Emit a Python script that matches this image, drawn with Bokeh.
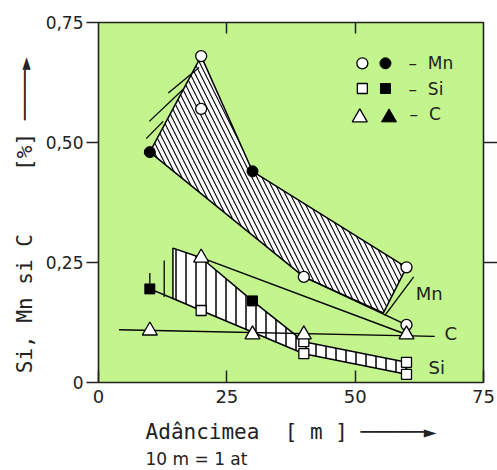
from bokeh.plotting import figure
from bokeh.models import Range1d, FixedTicker, LinearAxis, Title
from bokeh.core.properties import value
from bokeh.embed import file_html
from bokeh.resources import INLINE

# ---------------- data ----------------
x_ticks = [0, 25, 50, 75]
y_ticks = [0.0, 0.25, 0.5, 0.75]
y_tick_labels = ["0", "0,25", "0,50", "0,75"]

# Mn
mn_open_x = [20, 20, 40, 60, 60]
mn_open_y = [0.68, 0.57, 0.22, 0.24, 0.12]
mn_fill_x = [10, 30]
mn_fill_y = [0.48, 0.44]
# Si
si_open_x = [20, 40, 40, 60, 60]
si_open_y = [0.15, 0.085, 0.06, 0.042, 0.017]
si_fill_x = [10, 30]
si_fill_y = [0.195, 0.17]
# C
c_open_x = [10, 20, 30, 40, 60]
c_open_y = [0.108, 0.26, 0.10, 0.10, 0.10]

# hatched scatter bands and trend lines
mn_band_x = [10, 20, 30, 60, 55.5, 40]
mn_band_y = [0.48, 0.68, 0.44, 0.24, 0.145, 0.22]
mn_low_x = [40, 60]
mn_low_y = [0.22, 0.12]
si_band_x = [14.5, 20, 30, 40, 60, 60, 40, 20, 14.5]
si_band_y = [0.28, 0.26, 0.17, 0.085, 0.042, 0.017, 0.06, 0.15, 0.175]
si_low_x = [10, 14.5]
si_low_y = [0.195, 0.175]
c_trend_x = [20, 60]
c_trend_y = [0.26, 0.10]
c_level_x = [4, 65.5]
c_level_y = [0.11, 0.096]

# short strokes drawn outside the bands
stroke_x0 = [13.6, 9.9, 9.3, 61.4, 12.8, 10]
stroke_y0 = [0.603, 0.544, 0.508, 0.22, 0.178, 0.207]
stroke_x1 = [19.6, 16.5, 12.6, 55.8, 12.8, 10]
stroke_y1 = [0.656, 0.611, 0.544, 0.14, 0.254, 0.228]

# series names written next to the curves
curve_names = ["Mn", "C", "Si"]
curve_name_x = [61.8, 67.4, 64.3]
curve_name_y = [0.185, 0.102, 0.031]

# texts
NB = "\u00a0"
y_title = ("Si, Mn si C" + NB * 5 + "[%]" + NB
           + "\u2500" * 4 + "\u25ba" + NB * 2)
x_title = ("Adâncimea" + NB * 2 + "[" + NB + "m" + NB + "]" + NB
           + "\u2500" * 5 + "\u25ba")
x_note = "10 m = 1 at"
legend_texts = ["\u2013" + NB * 2 + "Mn", "\u2013" + NB * 2 + "Si", "\u2013" + NB * 2 + "C"]

# ---------------- figure ----------------
FONT = "DejaVu Sans"
MONO = "DejaVu Sans Mono"
GREEN = "#c3f48d"
INK = "#222222"

p = figure(width=497, height=470, x_range=Range1d(0, 75), y_range=Range1d(0, 0.75),
           output_backend="svg", toolbar_location=None,
           x_axis_location=None, y_axis_location=None,
           min_border_left=98, min_border_right=14, min_border_top=22, min_border_bottom=88)
p.xgrid.visible = False
p.ygrid.visible = False
p.background_fill_color = GREEN
p.border_fill_color = "white"
p.outline_line_color = INK
p.outline_line_width = 1.6


def make_axis(ticks, tick_in=0, tick_out=0, overrides=None, font_size="17px", standoff=0):
    ax = LinearAxis(ticker=FixedTicker(ticks=ticks))
    if overrides is not None:
        ax.major_label_overrides = overrides
    ax.axis_line_color = None
    ax.major_tick_line_color = INK
    ax.major_tick_line_width = 1.5
    ax.minor_tick_line_color = None
    ax.major_tick_in = tick_in
    ax.major_tick_out = tick_out
    ax.major_label_standoff = standoff
    ax.major_label_text_font = FONT
    ax.major_label_text_font_size = font_size
    ax.major_label_text_color = INK
    return ax


def title_axis(text, standoff, font_size):
    ax = make_axis([], font_size="8px")
    ax.axis_label = text
    ax.axis_label_standoff = standoff
    ax.axis_label_text_font = MONO
    ax.axis_label_text_font_size = font_size
    ax.axis_label_text_font_style = "normal"
    ax.axis_label_text_color = INK
    return ax


p.add_layout(make_axis(y_ticks, tick_out=12, standoff=3,
                       overrides=dict(zip(y_ticks, y_tick_labels))), "left")
p.add_layout(title_axis(y_title, 6, "21px"), "left")

p.add_layout(make_axis(x_ticks, tick_in=12, standoff=7, font_size="18px"), "below")
p.add_layout(title_axis(x_title, 14, "21px"), "below")
p.add_layout(Title(text=x_note, align="left", offset=47, standoff=0,
                   text_font=FONT, text_font_size="17px", text_font_style="normal",
                   text_color=INK), "below")

p.add_layout(make_axis(x_ticks[1:3], tick_in=11, font_size="8px",
                       overrides={t: "" for t in x_ticks[1:3]}), "above")
p.add_layout(make_axis(y_ticks[1:3], tick_out=14, font_size="8px",
                       overrides={t: "" for t in y_ticks[1:3]}), "right")

# ---------------- bands ----------------
p.patch(mn_band_x, mn_band_y, fill_color="white", line_color="black", line_width=1.5,
        hatch_pattern="\\", hatch_color="black", hatch_scale=10, hatch_weight=1.1)
p.patch(si_band_x, si_band_y, fill_color="white", line_color="black", line_width=1.5,
        hatch_pattern="|", hatch_color="black", hatch_scale=10, hatch_weight=1.5)

# ---------------- lines ----------------
for xs, ys in [(mn_low_x, mn_low_y), (si_low_x, si_low_y),
               (c_trend_x, c_trend_y), (c_level_x, c_level_y)]:
    p.line(xs, ys, line_color="black", line_width=1.4)
p.segment(stroke_x0, stroke_y0, stroke_x1, stroke_y1, line_color="black", line_width=1.3)

# ---------------- markers ----------------
p.scatter(mn_open_x, mn_open_y, marker="circle", size=11, fill_color="white",
          line_color="black", line_width=1.3)
p.scatter(mn_fill_x, mn_fill_y, marker="circle", size=11, fill_color="black",
          line_color="black")
p.scatter(si_open_x, si_open_y, marker="square", size=10, fill_color="white",
          line_color="black", line_width=1.3)
p.scatter(si_fill_x, si_fill_y, marker="square", size=10, fill_color="black",
          line_color="black")
p.scatter(c_open_x, c_open_y, marker="triangle", size=15, fill_color="white",
          line_color="black", line_width=1.3)

# ---------------- curve names ----------------
p.text(x=curve_name_x, y=curve_name_y, text=curve_names, text_font=value(FONT),
       text_font_size="18px", text_baseline="middle", text_align="left",
       text_color=INK)

# ---------------- key (drawn like the original) ----------------
leg_y = [0.665, 0.6125, 0.552]
leg_x_open = 51.4
leg_x_fill = 55.9
p.scatter([leg_x_open], [leg_y[0]], marker="circle", size=11, fill_color="white",
          line_color="black", line_width=1.3)
p.scatter([leg_x_fill], [leg_y[0]], marker="circle", size=11, fill_color="black",
          line_color="black")
p.scatter([leg_x_open], [leg_y[1]], marker="square", size=10, fill_color="white",
          line_color="black", line_width=1.3)
p.scatter([leg_x_fill], [leg_y[1]], marker="square", size=10, fill_color="black",
          line_color="black")
p.scatter([50.9], [leg_y[2]], marker="triangle", size=15, fill_color="white",
          line_color="black", line_width=1.3)
p.scatter([56.6], [leg_y[2]], marker="triangle", size=15, fill_color="black",
          line_color="black")
p.text(x=[60.4, 60.4, 60.6], y=[leg_y[0], leg_y[1], leg_y[2] + 0.008],
       text=legend_texts, text_font=value(FONT), text_font_size="17px",
       text_baseline="middle", text_align="left", text_color=INK)

open("out.html", "w").write(file_html(p, INLINE))
